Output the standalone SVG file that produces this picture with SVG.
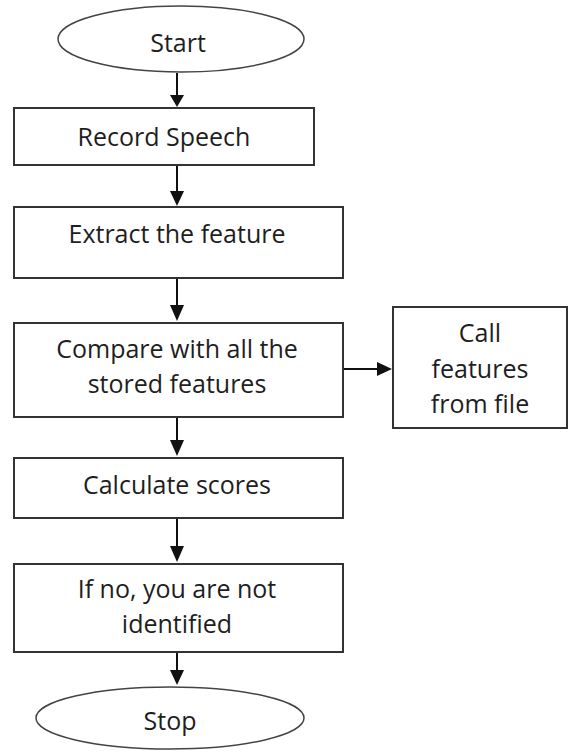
<svg xmlns="http://www.w3.org/2000/svg" width="570" height="752" viewBox="0 0 570 752">
  <style>
    .box { fill: #ffffff; stroke: #333333; stroke-width: 2; }
    .term { fill: #ffffff; stroke: #444444; stroke-width: 1.5; }
    .label { font-family: "Open Sans", "Noto Sans", "Liberation Sans", sans-serif; font-size: 25px; fill: #1e1e1e; text-anchor: middle; }
    .flow { stroke: #111111; stroke-width: 2; fill: none; }
    .head { fill: #111111; stroke: none; }
  </style>
  <rect width="570" height="752" fill="#ffffff"/>

  <!-- flow connectors -->
  <g id="connectors">
    <line class="flow" x1="177" y1="73" x2="177" y2="96"/>
    <polygon class="head" points="170,95 184,95 177,107"/>

    <line class="flow" x1="177" y1="165" x2="177" y2="192"/>
    <polygon class="head" points="170,191 184,191 177,206"/>

    <line class="flow" x1="177" y1="278" x2="177" y2="306"/>
    <polygon class="head" points="170,305 184,305 177,321"/>

    <line class="flow" x1="177" y1="417" x2="177" y2="441"/>
    <polygon class="head" points="170,440 184,440 177,456"/>

    <line class="flow" x1="177" y1="518" x2="177" y2="547"/>
    <polygon class="head" points="170,546 184,546 177,562"/>

    <line class="flow" x1="177" y1="652" x2="177" y2="671"/>
    <polygon class="head" points="170,670 184,670 177,685"/>

    <line class="flow" x1="343" y1="369" x2="378" y2="369"/>
    <polygon class="head" points="377,362 377,376 392,369"/>
  </g>

  <g id="start">
    <ellipse class="term" cx="181" cy="39" rx="123" ry="33"/>
    <text class="label" x="178" y="52">Start</text>
  </g>

  <g id="record-speech">
    <rect class="box" x="14" y="108" width="300" height="57"/>
    <text class="label" x="164" y="146">Record Speech</text>
  </g>

  <g id="extract-feature">
    <rect class="box" x="14" y="207" width="329" height="71"/>
    <text class="label" x="177" y="243">Extract the feature</text>
  </g>

  <g id="compare">
    <rect class="box" x="14" y="323" width="329" height="94"/>
    <text class="label" x="177" y="358">Compare with all the</text>
    <text class="label" x="177" y="393">stored features</text>
  </g>

  <g id="call-features">
    <rect class="box" x="393" y="307" width="174" height="121"/>
    <text class="label" x="480" y="342">Call</text>
    <text class="label" x="480" y="378">features</text>
    <text class="label" x="480" y="413">from file</text>
  </g>

  <g id="calculate-scores">
    <rect class="box" x="14" y="458" width="329" height="60"/>
    <text class="label" x="177" y="494">Calculate scores</text>
  </g>

  <g id="not-identified">
    <rect class="box" x="14" y="564" width="329" height="88"/>
    <text class="label" x="177" y="598">If no, you are not</text>
    <text class="label" x="177" y="633">identified</text>
  </g>

  <g id="stop">
    <ellipse class="term" cx="170" cy="718" rx="134" ry="31"/>
    <text class="label" x="170" y="730">Stop</text>
  </g>
</svg>
